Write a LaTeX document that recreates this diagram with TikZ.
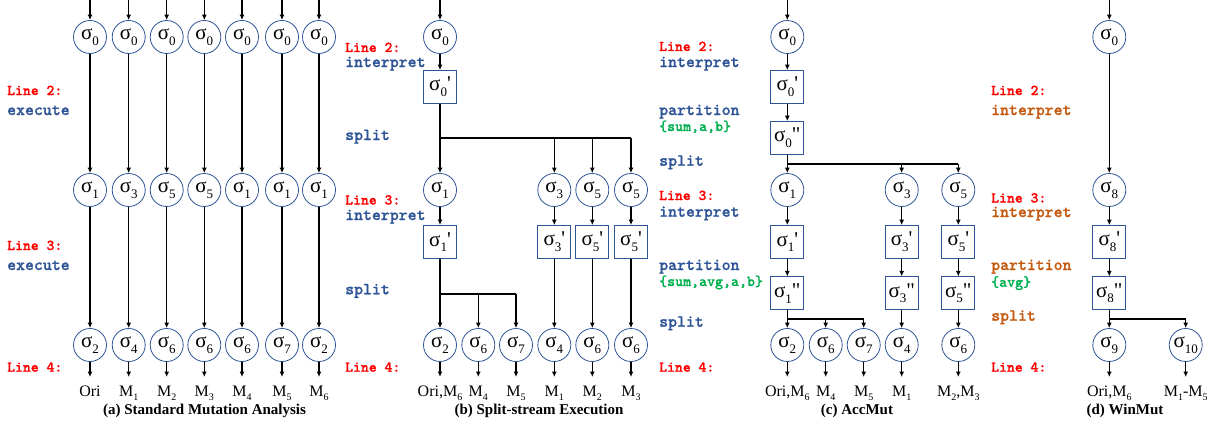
\documentclass[tikz,border=0pt]{standalone}
\usepackage{fontspec}
\setmainfont{Liberation Serif}
\newfontfamily\courb{lmmonolt10-bold}[Extension=.otf,FakeBold=1]
\usetikzlibrary{arrows.meta}
\definecolor{cblue}{RGB}{47,85,151}
\definecolor{lblue}{RGB}{47,85,151}
\definecolor{cgreen}{RGB}{0,176,80}
\definecolor{corange}{RGB}{197,90,17}
\newcommand\sg[2][]{σ\raisebox{-0.27em}{\fontsize{13}{13}\selectfont #2}#1}
\newcommand\Ms[1]{M\raisebox{-0.3em}{\fontsize{10}{10}\selectfont #1}}
\newcommand\pr{\textquotesingle}
\newcommand\dpr{\textquotedbl}
\tikzset{
  circ/.style={circle,draw=cblue,line width=0.8pt,minimum size=33pt,inner sep=0pt,font=\fontsize{21}{21}\selectfont},
  sbox/.style={rectangle,draw=cblue,line width=0.8pt,minimum size=33pt,inner sep=0pt,font=\fontsize{21}{21}\selectfont},
  arr/.style={-{Latex[length=5.5pt,width=5pt]},line width=1.3pt},
  ln/.style={line width=1.3pt},
  hl/.style={line width=1.6pt},
  linel/.style={anchor=base west,inner sep=0pt,font=\courb\fontsize{15}{15}\selectfont,text=red},
  act/.style={anchor=base west,inner sep=0pt,font=\courb\fontsize{17}{17}\selectfont,text=lblue},
  actd/.style={act,text=corange},
  setl/.style={anchor=base west,inner sep=0pt,font=\courb\fontsize{15.2}{15.2}\selectfont,text=cgreen},
  blab/.style={anchor=base,inner sep=0pt,font=\fontsize{16}{16}\selectfont},
  captext/.style={anchor=base,inner sep=0pt,font=\bfseries\fontsize{15}{15}\selectfont}
}
\begin{document}
\begin{tikzpicture}[x=1pt,y=-1pt]
\useasboundingbox (0,0) rectangle (1225,428);
% ---------------- (a)
\foreach \x/\m/\b/\lb [count=\i] in {90/1/2/Ori,128.7/3/4/\Ms{1},166.7/5/6/\Ms{2},204.3/5/6/\Ms{3},242/1/6/\Ms{4},282/1/7/\Ms{5},319/1/2/\Ms{6}}{
  \coordinate (at\i) at (\x,0);
  \node[circ] (a0\i) at (\x,37) {\sg{0}};
  \node[circ] (a1\i) at (\x,190) {\sg{\m}};
  \node[circ] (a2\i) at (\x,345) {\sg{\b}};
  \coordinate (ae\i) at (\x,377);
  \node[blab] (al\i) at (\x,396) {\lb};
  \draw[arr] (at\i) -- (a0\i);
  \draw[arr] (a0\i) -- (a1\i);
  \draw[arr] (a1\i) -- (a2\i);
  \draw[arr] (a2\i) -- (ae\i);
}
\node[captext] (capa) at (204.5,414) {(a) Standard Mutation Analysis};
\node[linel] (aL2) at (7,95) {Line 2:};
\node[act] (aE2) at (7,115) {execute};
\node[linel] (aL3) at (7,250) {Line 3:};
\node[act] (aE3) at (7,270) {execute};
\node[linel] (aL4) at (7,371.7) {Line 4:};
% ---------------- (b)
\coordinate (bt) at (440,0);
\node[circ] (b0) at (440,37) {\sg{0}};
\node[sbox] (b0p) at (440,87) {\sg[\pr]{0}};
\coordinate (bs1) at (440,138);
\node[circ] (b1) at (440,190) {\sg{1}};
\node[circ] (b3) at (554.3,190) {\sg{3}};
\node[circ] (b5) at (592.3,190) {\sg{5}};
\node[circ] (b5b) at (631,190) {\sg{5}};
\node[sbox] (b1p) at (440,242) {\sg[\pr]{1}};
\node[sbox] (b3p) at (554.3,242) {\sg[\pr]{3}};
\node[sbox] (b5p) at (592.3,242) {\sg[\pr]{5}};
\node[sbox] (b5bp) at (631,242) {\sg[\pr]{5}};
\coordinate (bs2) at (440,294);
\node[circ] (b2) at (440,345) {\sg{2}};
\node[circ] (b6) at (478.3,345) {\sg{6}};
\node[circ] (b7) at (516,345) {\sg{7}};
\node[circ] (b4) at (554.3,345) {\sg{4}};
\node[circ] (b6b) at (592.3,345) {\sg{6}};
\node[circ] (b6c) at (631,345) {\sg{6}};
\foreach \n/\x/\lb in {b2/440/{Ori,\Ms{6}},b6/478.3/\Ms{4},b7/516/\Ms{5},b4/554.3/\Ms{1},b6b/592.3/\Ms{2},b6c/631/\Ms{3}}{
  \coordinate (\n e) at (\x,377);
  \node[blab] (\n l) at (\x,396) {\lb};
  \draw[arr] (\n) -- (\n e);
}
\draw[arr] (bt) -- (b0);
\draw[arr] (b0) -- (b0p);
\draw[ln] (b0p) -- (bs1);
\draw[arr] (bs1) -- (b1);
\draw[hl] (bs1) -- (bs1 -| b5b);
\draw[arr] (bs1 -| b3) -- (b3);
\draw[arr] (bs1 -| b5) -- (b5);
\draw[arr] (bs1 -| b5b) -- (b5b);
\draw[arr] (b1) -- (b1p);
\draw[arr] (b3) -- (b3p);
\draw[arr] (b5) -- (b5p);
\draw[arr] (b5b) -- (b5bp);
\draw[ln] (b1p) -- (bs2);
\draw[arr] (bs2) -- (b2);
\draw[hl] (bs2) -- (bs2 -| b7);
\draw[arr] (bs2 -| b6) -- (b6);
\draw[arr] (bs2 -| b7) -- (b7);
\draw[arr] (b3p) -- (b4);
\draw[arr] (b5p) -- (b6b);
\draw[arr] (b5bp) -- (b6c);
\node[captext] (capb) at (539,414) {(b) Split-stream Execution};
\node[linel] (bL2) at (345,52) {Line 2:};
\node[act] (bI2) at (345,67) {interpret};
\node[act] (bS2) at (345,140) {split};
\node[linel] (bL3) at (345,204.5) {Line 3:};
\node[act] (bI3) at (345,220) {interpret};
\node[act] (bS3) at (345,294.3) {split};
\node[linel] (bL4) at (345,371.7) {Line 4:};
% ---------------- (c)
\coordinate (ct) at (787.3,0);
\node[circ] (c0) at (787.3,37) {\sg{0}};
\node[sbox] (c0p) at (787.3,87) {\sg[\pr]{0}};
\node[sbox] (c0pp) at (787.3,138) {\sg[\dpr]{0}};
\coordinate (cs1) at (787.3,164);
\node[circ] (c1) at (787.3,190) {\sg{1}};
\node[circ] (c3) at (901.7,190) {\sg{3}};
\node[circ] (c5) at (958.3,190) {\sg{5}};
\node[sbox] (c1p) at (787.3,242) {\sg[\pr]{1}};
\node[sbox] (c3p) at (901.7,242) {\sg[\pr]{3}};
\node[sbox] (c5p) at (958.3,242) {\sg[\pr]{5}};
\node[sbox] (c1pp) at (787.3,293.3) {\sg[\dpr]{1}};
\node[sbox] (c3pp) at (901.7,293.3) {\sg[\dpr]{3}};
\node[sbox] (c5pp) at (958.3,293.3) {\sg[\dpr]{5}};
\coordinate (cs2) at (787.3,319);
\node[circ] (c2) at (787.3,345) {\sg{2}};
\node[circ] (c6) at (825.7,345) {\sg{6}};
\node[circ] (c7) at (863.7,345) {\sg{7}};
\node[circ] (c4) at (901.7,345) {\sg{4}};
\node[circ] (c6b) at (958.3,345) {\sg{6}};
\foreach \n/\x/\lb in {c2/787.3/{Ori,\Ms{6}},c6/825.7/\Ms{4},c7/863.7/\Ms{5},c4/901.7/\Ms{1},c6b/958.3/{\Ms{2},\Ms{3}}}{
  \coordinate (\n e) at (\x,377);
  \node[blab] (\n l) at (\x,396) {\lb};
  \draw[arr] (\n) -- (\n e);
}
\draw[arr] (ct) -- (c0);
\draw[arr] (c0) -- (c0p);
\draw[arr] (c0p) -- (c0pp);
\draw[ln] (c0pp) -- (cs1);
\draw[arr] (cs1) -- (c1);
\draw[hl] (cs1) -- (cs1 -| c5);
\draw[arr] (cs1 -| c3) -- (c3);
\draw[arr] (cs1 -| c5) -- (c5);
\draw[arr] (c1) -- (c1p);
\draw[arr] (c3) -- (c3p);
\draw[arr] (c5) -- (c5p);
\draw[arr] (c1p) -- (c1pp);
\draw[arr] (c3p) -- (c3pp);
\draw[arr] (c5p) -- (c5pp);
\draw[ln] (c1pp) -- (cs2);
\draw[arr] (cs2) -- (c2);
\draw[hl] (cs2) -- (cs2 -| c7);
\draw[arr] (cs2 -| c6) -- (c6);
\draw[arr] (cs2 -| c7) -- (c7);
\draw[arr] (c3pp) -- (c4);
\draw[arr] (c5pp) -- (c6b);
\node[captext] (capc) at (857,414) {(c) AccMut};
\node[linel] (cL2) at (659,51) {Line 2:};
\node[act] (cI2) at (659,67) {interpret};
\node[act] (cP2) at (659,115) {partition};
\node[setl] (cT2) at (659,131) {\{sum,a,b\}};
\node[act] (cS2) at (659,165.7) {split};
\node[linel] (cL3) at (659,200) {Line 3:};
\node[act] (cI3) at (659,216.7) {interpret};
\node[act] (cP3) at (659,270) {partition};
\node[setl] (cT3) at (659,286) {\{sum,avg,a,b\}};
\node[act] (cS3) at (659,326.7) {split};
\node[linel] (cL4) at (659,371.7) {Line 4:};
% ---------------- (d)
\coordinate (dt) at (1109.3,0);
\node[circ] (d0) at (1109.3,37) {\sg{0}};
\node[circ] (d8) at (1109.3,190) {\sg{8}};
\node[sbox] (d8p) at (1109.3,242) {\sg[\pr]{8}};
\node[sbox] (d8pp) at (1109.3,293.3) {\sg[\dpr]{8}};
\coordinate (ds) at (1109.3,319);
\node[circ] (d9) at (1109.3,345) {\sg{9}};
\node[circ] (d10) at (1185.7,345) {\sg{10}};
\foreach \n/\x/\lb in {d9/1109.3/{Ori,\Ms{6}},d10/1185.7/{\Ms{1}-\Ms{5}}}{
  \coordinate (\n e) at (\x,377);
  \node[blab] (\n l) at (\x,396) {\lb};
  \draw[arr] (\n) -- (\n e);
}
\draw[arr] (dt) -- (d0);
\draw[arr] (d0) -- (d8);
\draw[arr] (d8) -- (d8p);
\draw[arr] (d8p) -- (d8pp);
\draw[ln] (d8pp) -- (ds);
\draw[arr] (ds) -- (d9);
\draw[hl] (ds) -- (ds -| d10);
\draw[arr] (ds -| d10) -- (d10);
\node[captext] (capd) at (1125,414) {(d) WinMut};
\node[linel] (dL2) at (991,95) {Line 2:};
\node[actd] (dI2) at (991,115) {interpret};
\node[linel] (dL3) at (991,202.5) {Line 3:};
\node[actd] (dI3) at (991,217) {interpret};
\node[actd] (dP3) at (991,270) {partition};
\node[setl] (dT3) at (991,286.7) {\{avg\}};
\node[actd] (dS3) at (991,320.7) {split};
\node[linel] (dL4) at (991,371.7) {Line 4:};
\end{tikzpicture}
\end{document}
